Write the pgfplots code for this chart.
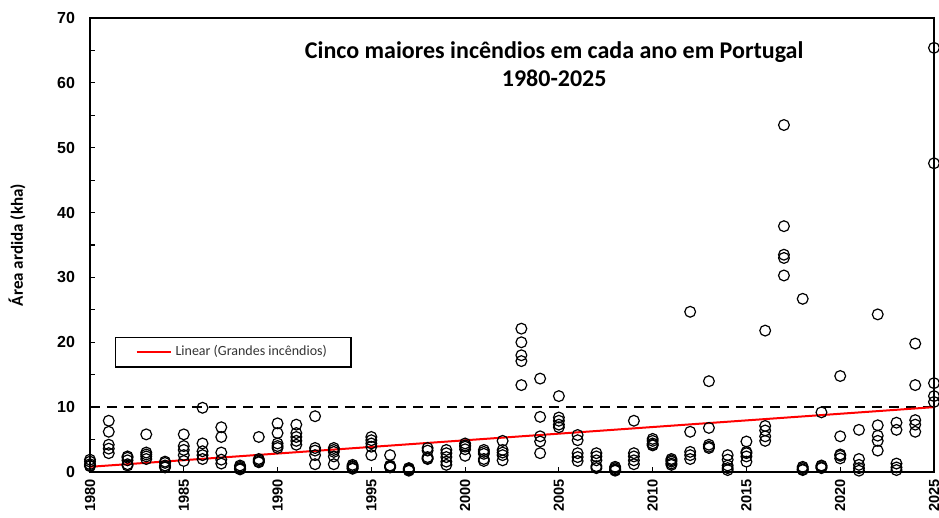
\documentclass[border=0pt]{standalone}
\usepackage{pgfplots}
\pgfplotsset{compat=1.18}
\usepackage{pgfplotstable}
\usepackage{fontspec}
\setmainfont{Carlito}
\newfontfamily\arialfont{Liberation Sans}
\pgfplotstableread{
year val
1980 1.9
1980 1.6
1980 1.2
1980 1.0
1980 0.9
1981 7.9
1981 6.2
1981 4.2
1981 3.6
1981 2.9
1982 2.4
1982 2.2
1982 1.8
1982 1.2
1982 1.0
1983 5.8
1983 3.0
1983 2.7
1983 2.4
1983 2.0
1984 1.6
1984 1.4
1984 1.0
1984 0.8
1984 0.7
1985 5.8
1985 4.0
1985 3.4
1985 2.6
1985 1.7
1986 9.9
1986 4.4
1986 3.2
1986 2.6
1986 2.0
1987 6.9
1987 5.4
1987 3.0
1987 1.9
1987 1.3
1988 1.0
1988 0.8
1988 0.6
1988 0.5
1988 0.4
1989 5.4
1989 2.0
1989 1.8
1989 1.6
1989 1.5
1990 7.5
1990 6.0
1990 4.4
1990 4.0
1990 3.7
1991 7.3
1991 6.0
1991 5.4
1991 4.8
1991 4.2
1992 8.6
1992 3.7
1992 3.3
1992 2.6
1992 1.2
1993 3.7
1993 3.4
1993 3.1
1993 2.4
1993 1.2
1994 1.1
1994 0.9
1994 0.8
1994 0.6
1994 0.5
1995 5.4
1995 4.9
1995 4.4
1995 3.9
1995 2.6
1996 2.6
1996 1.0
1996 0.9
1996 0.8
1996 0.7
1997 0.6
1997 0.5
1997 0.4
1997 0.3
1997 0.2
1998 3.7
1998 3.3
1998 2.3
1998 2.1
1998 2.0
1999 3.4
1999 2.9
1999 2.3
1999 1.6
1999 1.1
2000 4.4
2000 4.1
2000 3.9
2000 3.5
2000 2.5
2001 3.4
2001 3.1
2001 2.8
2001 2.0
2001 1.7
2002 4.8
2002 3.4
2002 3.0
2002 2.6
2002 1.8
2003 22.1
2003 20.0
2003 18.0
2003 17.1
2003 13.4
2004 14.4
2004 8.5
2004 5.5
2004 4.7
2004 2.9
2005 11.7
2005 8.4
2005 7.9
2005 7.3
2005 6.9
2006 5.7
2006 4.9
2006 2.9
2006 2.3
2006 1.7
2007 2.9
2007 2.4
2007 1.8
2007 0.9
2007 0.6
2008 0.8
2008 0.6
2008 0.4
2008 0.3
2008 0.2
2009 7.9
2009 2.9
2009 2.4
2009 1.8
2009 1.2
2010 5.1
2010 4.8
2010 4.4
2010 4.2
2010 4.1
2011 2.0
2011 1.8
2011 1.6
2011 1.3
2011 1.1
2012 24.7
2012 6.2
2012 3.1
2012 2.6
2012 2.0
2013 14.0
2013 6.8
2013 4.2
2013 3.9
2013 3.7
2014 2.6
2014 1.9
2014 1.0
2014 0.6
2014 0.3
2015 4.7
2015 3.1
2015 2.9
2015 2.4
2015 1.6
2016 21.8
2016 7.1
2016 6.4
2016 5.5
2016 4.8
2017 53.5
2017 37.9
2017 33.5
2017 33.0
2017 30.3
2018 26.7
2018 0.8
2018 0.6
2018 0.4
2018 0.3
2019 9.2
2019 1.0
2019 0.9
2019 0.7
2019 0.6
2020 14.8
2020 5.5
2020 2.7
2020 2.5
2020 2.1
2021 6.5
2021 2.0
2021 1.1
2021 0.6
2021 0.2
2022 24.3
2022 7.2
2022 5.6
2022 4.8
2022 3.3
2023 7.6
2023 6.5
2023 1.3
2023 0.7
2023 0.3
2024 19.8
2024 13.4
2024 8.0
2024 7.3
2024 6.2
2025 65.4
2025 47.6
2025 13.7
2025 11.7
2025 10.8
}\fires
\begin{document}
\begin{tikzpicture}
\useasboundingbox (-45pt,-23pt) rectangle (424.5pt,236pt);
\begin{axis}[
  at={(0,0)}, anchor=south west,
  scale only axis, width=422pt, height=227pt,
  xmin=1980, xmax=2025, ymin=0, ymax=70,
  xtick={1980,1985,...,2025}, ytick={0,10,...,70},
  minor y tick num=1,
  tick align=inside, tickwidth=2.5pt, subtickwidth=2.5pt,
  xtick pos=bottom, ytick pos=left,
  axis line style={line width=0.6pt},
  major tick style={line width=0.6pt, black},
  minor tick style={line width=0.6pt, black},
  /pgf/number format/assume math mode=true,
  /pgf/number format/1000 sep={},
  ticklabel style={font=\arialfont\bfseries\fontsize{8}{9}\selectfont},
  x tick label style={rotate=90, anchor=east, font=\arialfont\bfseries\fontsize{7.3}{8}\selectfont, yshift=0pt},
  y tick label style={xshift=-4pt},
  ylabel={Área ardida (kha)},
  ylabel style={font=\bfseries\fontsize{8.5}{10}\selectfont, at={(axis description cs:-0.0865,0.5)}, anchor=center},
  legend style={at={(axis description cs:0.0296,0.297)}, anchor=north west,
    draw=black, line width=0.6pt, inner xsep=10pt, inner ysep=2pt,
    font=\fontsize{7}{8}\selectfont\color{black!80}},
  legend image code/.code={\draw[#1] (0pt,0pt) -- (17pt,0pt);},
  clip=false,
]
\addplot[black, line width=1.2pt, dash pattern=on 5pt off 3.5pt, forget plot] coordinates {(1980,10) (2025,10)};
\addplot[only marks, mark=o, mark size=2.7pt, mark options={draw=black, fill=white, line width=0.6pt}, forget plot] table[x=year, y=val] {\fires};
\addplot[red, line width=1pt] coordinates {(1980,0.8) (2025,10.0)};
\addlegendentry{Linear (Grandes incêndios)}
\node[font=\bfseries\fontsize{12}{14}\selectfont, align=center] at (axis description cs:0.55,0.899) {Cinco maiores incêndios em cada ano em Portugal\\1980-2025};
\end{axis}
\end{tikzpicture}
\end{document}
